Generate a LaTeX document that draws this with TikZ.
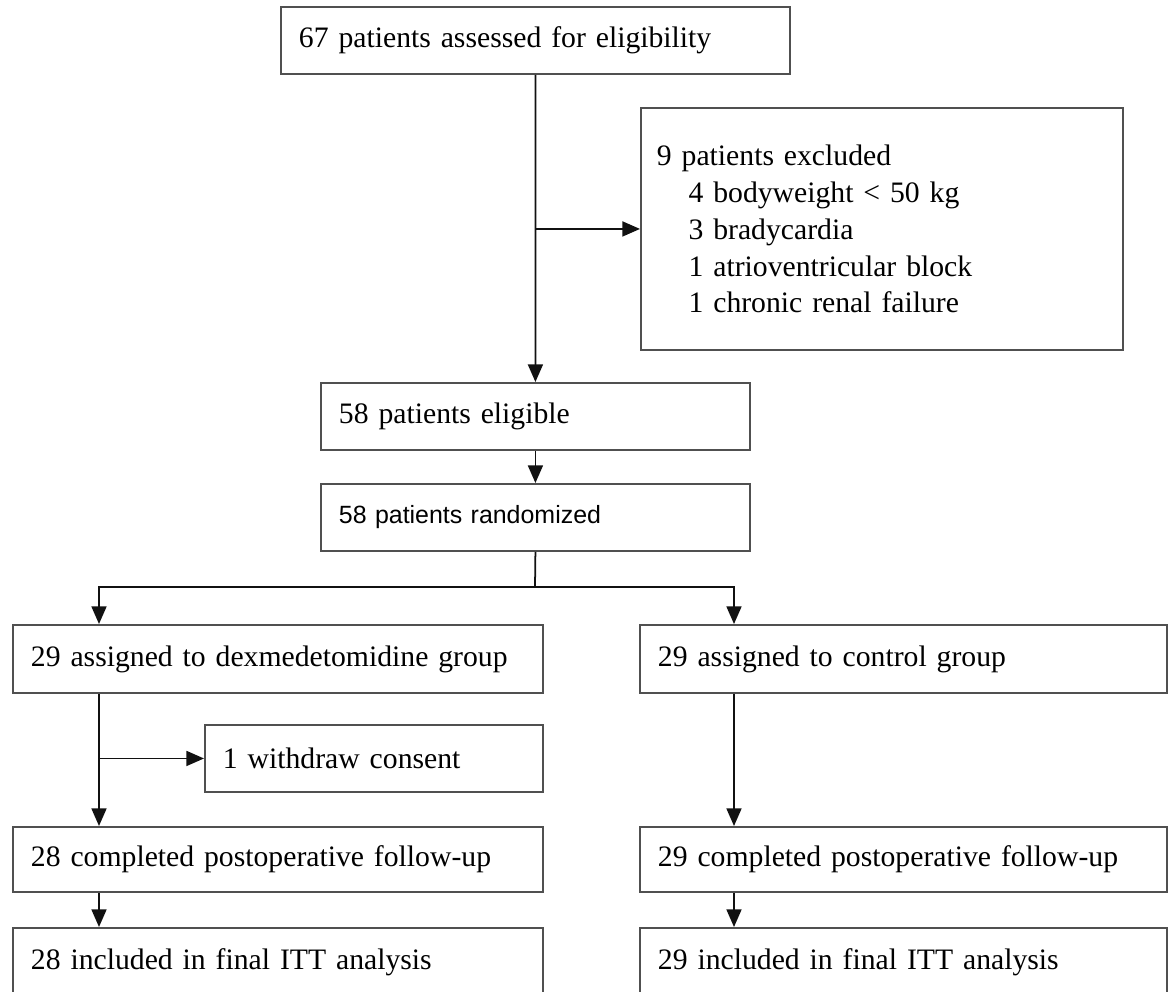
\documentclass[tikz,border=0pt]{standalone}
\usepackage{fontspec}
\setmainfont{Liberation Serif}
\newfontfamily\randfont{Liberation Sans}
\usepackage{xcolor}
\usetikzlibrary{arrows.meta}
\definecolor{FCBorder}{HTML}{505050}
\definecolor{FCLine}{HTML}{111111}
\tikzset{
  fcbox/.style={draw=FCBorder,line width=1.1pt,anchor=north west,align=left,
    inner xsep=0.36cm,inner ysep=0pt,font=\fontsize{16.9}{21}\selectfont},
  fcarrow/.style={draw=FCLine,line width=1pt,-{Triangle[length=10pt,width=8.5pt]}},
  fcline/.style={draw=FCLine,line width=1pt}
}

\begin{document}
\begin{tikzpicture}[x=0.02cm,y=-0.02cm]
\useasboundingbox (0,0) rectangle (1170,991);
\node[fcbox,text width=9.46cm,minimum height=1.34cm] (assess) at (280,6) {67 patients assessed for eligibility};
\node[fcbox,text width=9.0cm,inner xsep=0.32cm,minimum height=4.84cm] (excl) at (640,107)
  {9 patients excluded\\
   \hspace*{18pt}4 bodyweight < 50 kg\\
   \hspace*{18pt}3 bradycardia\\
   \hspace*{18pt}1 atrioventricular block\\
   \hspace*{18pt}1 chronic renal failure};
\node[fcbox,text width=7.86cm,minimum height=1.34cm] (elig) at (320,382) {58 patients eligible};
\node[fcbox,text width=7.86cm,minimum height=1.34cm,font=\randfont\fontsize{14.2}{17}\selectfont] (rand) at (320,483) {58 patients randomized};
\node[fcbox,text width=9.88cm,minimum height=1.36cm] (dex) at (12,624) {29 assigned to dexmedetomidine group};
\node[fcbox,text width=9.82cm,minimum height=1.36cm] (ctrl) at (639,624) {29 assigned to control group};
\node[fcbox,text width=6.04cm,minimum height=1.34cm] (withdraw) at (204,724) {1 withdraw consent};
\node[fcbox,text width=9.88cm,minimum height=1.30cm] (dexdone) at (12,826) {28 completed postoperative follow-up};
\node[fcbox,text width=9.82cm,minimum height=1.30cm] (ctrldone) at (639,826) {29 completed postoperative follow-up};
\node[fcbox,text width=9.88cm,minimum height=1.36cm] (dexitt) at (12,927) {28 included in final ITT analysis};
\node[fcbox,text width=9.82cm,minimum height=1.36cm] (ctrlitt) at (639,927) {29 included in final ITT analysis};
\coordinate (split) at (535,587);
\coordinate (dexin) at (99,587);
\coordinate (ctrlin) at (734,587);
\draw[fcarrow] (assess) -- (elig);
\draw[fcarrow] (excl.west -| assess.south) -- (excl.west);
\draw[fcarrow] (elig) -- (rand);
\draw[fcline] (rand.south) -- (split);
\draw[fcarrow] (split) -| (dexin |- dex.north);
\draw[fcarrow] (split) -| (ctrlin |- ctrl.north);
\draw[fcarrow] (dexin |- dex.south) -- (dexin |- dexdone.north);
\draw[fcarrow] (dexin |- withdraw.west) -- (withdraw.west);
\draw[fcarrow] (dexin |- dexdone.south) -- (dexin |- dexitt.north);
\draw[fcarrow] (ctrlin |- ctrl.south) -- (ctrlin |- ctrldone.north);
\draw[fcarrow] (ctrlin |- ctrldone.south) -- (ctrlin |- ctrlitt.north);
\end{tikzpicture}
\end{document}
